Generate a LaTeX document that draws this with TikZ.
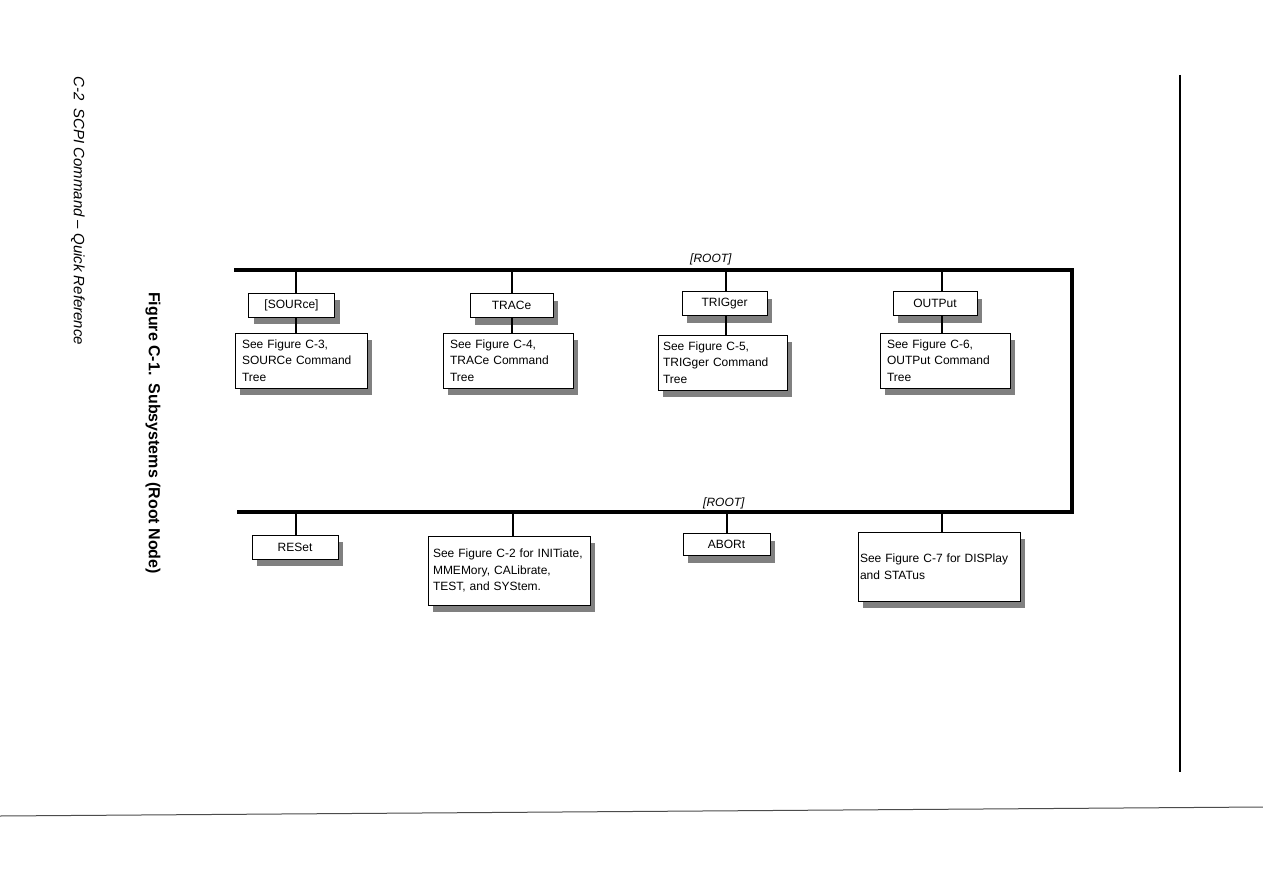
\documentclass[tikz,border=0pt]{standalone}
\usepackage{fontspec}
\setmainfont{Liberation Sans}
\usetikzlibrary{shadows}
\usetikzlibrary{calc}

% boxes of the command tree, sizes in px of the page
\tikzset{
	cmdbox/.style={draw, line width=0.8pt, fill=white, minimum width=86pt, minimum height=24pt,
		inner sep=0pt, font=\fontsize{12}{16.5}\selectfont,
		drop shadow={shadow xshift=5pt, shadow yshift=-7pt, fill=black!50, opacity=1}},
	seebox/.style={cmdbox, align=left, minimum height=55pt},
	bus/.style={line width=4pt},
	tap/.style={line width=2pt},
	rootlabel/.style={font=\fontsize{12}{14}\selectfont\itshape, anchor=base west, inner sep=0pt}
}

\begin{document}
\begin{tikzpicture}[x=1pt, y=-1pt]
	% page: 1263 x 893
	\fill[white] (0,0) rectangle (1263,893);
	\useasboundingbox (0,0) rectangle (1263,893);
	
	% running head and caption, page turned sideways
	\node[rotate=-90, font=\fontsize{15}{17}\selectfont\itshape] (head) at (78,211) {C-2\enspace SCPI Command -- Quick Reference};
	\node[rotate=-90, font=\fontsize{16}{18}\selectfont\bfseries] (caption) at (153,433) {Figure C-1.\enspace Subsystems (Root Node)};
	
	% page rules
	\draw[line width=1.5pt] (1180,75) -- (1180,772);
	\draw[line width=1pt, black!70] (0,816) -- (1263,807);
	
	% root bus
	\coordinate (topL) at (234,270);
	\coordinate (topR) at (1072,270);
	\coordinate (botR) at (1072,511.5);
	\coordinate (botL) at (237,511.5);
	\draw[bus] (topL) -- (topR) -- (botR) -- (botL);
	\node[rootlabel] (root1) at (690,263) {[ROOT]};
	\node[rootlabel] (root2) at (703,506) {[ROOT]};
	
	% upper subsystems
	\node[cmdbox] (src) at (291.5,305) {[SOURce]};
	\node[cmdbox, minimum width=83pt] (trac) at (511.5,305.5) {TRACe};
	\node[cmdbox, minimum width=85pt] (trig) at (724.5,303.5) {TRIGger};
	\node[cmdbox, minimum width=84pt] (outp) at (935,303.5) {OUTPut};
	
	\node[seebox, minimum width=132pt, text width=118pt] (srcsee) at (301,360.5) {See Figure C-3,\\SOURCe Command\\Tree};
	\node[seebox, minimum width=130pt, text width=116pt] (tracsee) at (508,360.5) {See Figure C-4,\\TRACe Command\\Tree};
	\node[seebox, minimum width=129pt, text width=119pt] (trigsee) at (722.5,362.5) {See Figure C-5,\\TRIGger Command\\Tree};
	\node[seebox, minimum width=130pt, text width=116pt] (outpsee) at (945,360.5) {See Figure C-6,\\OUTPut Command\\Tree};
	
	% lower subsystems
	\node[cmdbox] (rst) at (295,547) {RESet};
	\node[cmdbox, minimum width=87pt, minimum height=22pt] (abor) at (726.5,544.5) {ABORt};
	\node[seebox, minimum width=162pt, minimum height=69pt, text width=152pt] (initsee) at (509,570.5) {See Figure C-2 for INITiate,\\MMEMory, CALibrate,\\TEST, and SYStem.};
	\node[seebox, minimum width=162pt, minimum height=69pt, text width=158pt] (dispsee) at (939,566.5) {See Figure C-7 for DISPlay\\and STATus\\[6pt]};
	
	% taps off the bus
	\coordinate (tsrc) at (296,270);
	\coordinate (ttrac) at (512,270);
	\coordinate (ttrig) at (726,270);
	\coordinate (toutp) at (942,270);
	\coordinate (trst) at (296,511.5);
	\coordinate (tinit) at (513,511.5);
	\coordinate (tabor) at (727,511.5);
	\coordinate (tdisp) at (942,511.5);
	
	\draw[tap] (tsrc) -- (tsrc |- src.north);
	\draw[tap] (tsrc |- src.south) -- (tsrc |- srcsee.north);
	\draw[tap] (ttrac) -- (ttrac |- trac.north);
	\draw[tap] (ttrac |- trac.south) -- (ttrac |- tracsee.north);
	\draw[tap] (ttrig) -- (ttrig |- trig.north);
	\draw[tap] (ttrig |- trig.south) -- (ttrig |- trigsee.north);
	\draw[tap] (toutp) -- (toutp |- outp.north);
	\draw[tap] (toutp |- outp.south) -- (toutp |- outpsee.north);
	
	\draw[tap] (trst) -- (trst |- rst.north);
	\draw[tap] (tinit) -- (tinit |- initsee.north);
	\draw[tap] (tabor) -- (tabor |- abor.north);
	\draw[tap] (tdisp) -- (tdisp |- dispsee.north);
\end{tikzpicture}
\end{document}
